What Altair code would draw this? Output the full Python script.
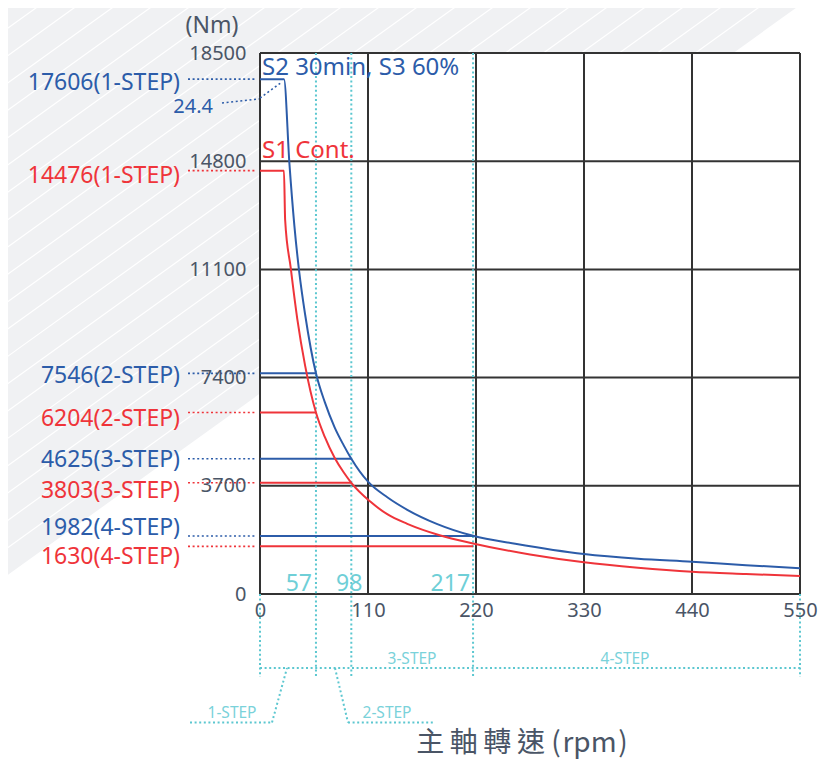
import altair as alt
import pandas as pd

# ---------------- data ----------------
# S2 30min / S3 60% torque curve (blue)
s2_rpm = [0, 24.4, 30, 35, 40, 46, 57, 66, 76, 85, 93, 110, 130, 150, 180, 217, 260, 330, 385, 440, 495, 550]
s2_nm = [17606, 17606, 14700, 12600, 11000, 9550, 7546, 6560, 5700, 5100, 4625, 3840, 3300, 2880, 2400, 1990, 1720, 1368, 1207, 1105, 985, 879]
# S1 continuous torque curve (red)
s1_rpm = [0, 24.4, 25.6, 31.3, 38, 46, 57, 66, 76, 85, 93, 112, 130, 150, 183, 217, 275, 330, 385, 440, 495, 550]
s1_nm = [14476, 14476, 12800, 11150, 9400, 7800, 6204, 5370, 4660, 4170, 3803, 3170, 2720, 2400, 2010, 1730, 1350, 1084, 900, 763, 684, 616]

step_names = ["1-STEP", "2-STEP", "3-STEP", "4-STEP"]
s2_step_nm = [17606, 7546, 4625, 1982]
s1_step_nm = [14476, 6204, 3803, 1630]
step_end_rpm = [57, 93, 217]          # where the step lines end in the picture
step_end_text = ["57", "98", "217"]   # labels printed at those lines
corner_rpm_text = "24.4"

x_ticks = [0, 110, 220, 330, 440, 550]
y_ticks = [0, 3700, 7400, 11100, 14800, 18500]

# ---------------- style ----------------
BLUE = "#2c5ca9"
RED = "#ef343a"
TEAL = "#5cc7d0"
GRAY = "#4a5566"
GRID = "#333333"
BG = "#f0f1f3"
FONT = "Noto Sans"
W, H = 540, 541

XS = alt.Scale(domain=[0, 550], nice=False, zero=False)
YS = alt.Scale(domain=[0, 18500], nice=False, zero=False)
XA = alt.Axis(values=x_ticks, format="d", grid=False, ticks=False, domain=False, labelFontSize=20,
              labelColor=GRAY, labelPadding=6, labelFlush=False, labelOverlap=False,
              title=None, zindex=1, labelFont=FONT)
YA = alt.Axis(values=y_ticks, format="d", grid=False, ticks=False, domain=False, labelFontSize=20,
              labelColor=GRAY, labelPadding=14, labelFlush=False, labelOverlap=False,
              title=None, zindex=1, labelFont=FONT)


def X(f):
    return alt.X(f, type="quantitative", scale=XS, axis=XA)


def Y(f):
    return alt.Y(f, type="quantitative", scale=YS, axis=YA)


one = pd.DataFrame({"k": [0]})

# ---------------- decorative background (page pixels -> data units) ----------------
def rpm_of(px):
    return (px - 260) * 550 / W


def nm_of(py):
    return (594 - py) * 18500 / H


SLOPE = 1.39
CORNER = 807
bg = pd.DataFrame({
    "x": [rpm_of(-10), rpm_of(CORNER)],
    "y": [nm_of(-5), nm_of(-5)],
    "y2": [nm_of((CORNER + 10) / SLOPE), nm_of(0)],
})
bg_layer = alt.Chart(bg).mark_area(color=BG, opacity=1).encode(x=X("x"), y=Y("y"), y2="y2")

stripes = []
c = CORNER - 38
while c > 0:
    stripes.append({"x": rpm_of(c), "y": nm_of(0), "x2": rpm_of(0), "y2": nm_of(c / SLOPE)})
    c -= 38
stripe_layer = alt.Chart(pd.DataFrame(stripes)).mark_rule(color="white", strokeWidth=1.2).encode(
    x=X("x"), y=Y("y"), x2="x2", y2="y2")

plot_bg = alt.Chart(one).mark_rect(color="white").encode(
    x=alt.value(0), x2=alt.value(W), y=alt.value(0), y2=alt.value(H))

# ---------------- grid ----------------
vgrid = alt.Chart(pd.DataFrame({"x": x_ticks})).mark_rule(color=GRID, strokeWidth=2).encode(
    x=X("x"), y=alt.value(0), y2=alt.value(H))
hgrid = alt.Chart(pd.DataFrame({"y": y_ticks})).mark_rule(color=GRID, strokeWidth=2).encode(
    y=Y("y"), x=alt.value(0), x2=alt.value(W))

# ---------------- teal step markers ----------------
DASH = [2, 2.6]
teal_v = alt.Chart(pd.DataFrame({"x": step_end_rpm})).mark_rule(
    color=TEAL, strokeWidth=2, strokeDash=DASH).encode(x=X("x"), y=alt.value(0), y2=alt.value(624))
teal_ends = alt.Chart(pd.DataFrame({"x": [x_ticks[0], x_ticks[-1]]})).mark_rule(
    color=TEAL, strokeWidth=2, strokeDash=DASH).encode(x=X("x"), y=alt.value(H), y2=alt.value(624))
teal_h = alt.Chart(pd.DataFrame({"x": [x_ticks[0]], "x2": [x_ticks[-1]]})).mark_rule(
    color=TEAL, strokeWidth=2, strokeDash=DASH).encode(x=X("x"), x2="x2", y=alt.value(615))

teal_num = []
for xv, txt, ddx in zip(step_end_rpm, step_end_text, [-4, 11, -3]):
    teal_num.append(alt.Chart(pd.DataFrame({"x": [xv], "t": [txt]})).mark_text(
        color="#6fcfd7", fontSize=23, font=FONT, align="right", baseline="alphabetic", dx=ddx, dy=-3).encode(
        x=X("x"), y=alt.value(H), text="t:N"))

# step range annotations below the axis
rule_style = dict(color=TEAL, strokeWidth=2, strokeDash=DASH)
leaders_px = [(-70, 669.5, 12, 669.5), (12, 669.5, 27, 615), (75, 615, 88, 669.5), (88, 669.5, 175, 669.5)]
step_anno = [alt.Chart(one).mark_rule(**rule_style).encode(
    x=alt.value(a), y=alt.value(b), x2=alt.value(cc), y2=alt.value(d)) for a, b, cc, d in leaders_px]
step_text_pos = [(-28, 660), (127, 660), (152, 606), (365, 606)]
step_texts = [alt.Chart(one).mark_text(text=name, color="#7ad2da", fontSize=15.5, font=FONT,
                                       align="center", baseline="middle").encode(
    x=alt.value(px), y=alt.value(py)) for name, (px, py) in zip(step_names, step_text_pos)]

# ---------------- left value labels & dotted leaders ----------------
lab = pd.DataFrame({
    "y": s2_step_nm + s1_step_nm,
    "t": [f"{v}({s})" for v, s in zip(s2_step_nm, step_names)] + [f"{v}({s})" for v, s in zip(s1_step_nm, step_names)],
    "c": [BLUE] * 4 + [RED] * 4,
    "dy": [4, 3, 1, -8, 5, 6, 8, 11],
})
leader = alt.Chart(lab).mark_rule(strokeWidth=1.6, strokeDash=[2, 2.6]).encode(
    y=Y("y"), x=alt.value(-72), x2=alt.value(-3), color=alt.Color("c:N", scale=None))
label_layers = []
for _, r in lab.iterrows():
    label_layers.append(alt.Chart(pd.DataFrame({"y": [r.y], "t": [r.t]})).mark_text(
        color=r.c, fontSize=23, font=FONT, align="right", baseline="middle", dy=int(r.dy)).encode(
        y=Y("y"), x=alt.value(-80), text="t:N"))

corner_text = alt.Chart(one).mark_text(text=corner_rpm_text, color=BLUE, fontSize=20, font=FONT,
                                       align="right", baseline="middle").encode(
    x=alt.value(-47), y=alt.value(54))
corner_lead1 = alt.Chart(one).mark_rule(color=BLUE, strokeWidth=1.6, strokeDash=[2, 2.6]).encode(
    x=alt.value(-38), y=alt.value(50), x2=alt.value(-1), y2=alt.value(46))
corner_lead2 = alt.Chart(one).mark_rule(color=BLUE, strokeWidth=1.6, strokeDash=[2, 2.6]).encode(
    x=alt.value(0), y=alt.value(45), x2=alt.value(22), y2=alt.value(29))

# ---------------- step horizontal lines ----------------
hl = pd.DataFrame({
    "x": [0] * 6,
    "x2": step_end_rpm + step_end_rpm,
    "y": s2_step_nm[1:] + s1_step_nm[1:],
    "c": [BLUE] * 3 + [RED] * 3,
})
hlines = alt.Chart(hl).mark_rule(strokeWidth=2).encode(
    x=X("x"), x2="x2", y=Y("y"), color=alt.Color("c:N", scale=None))

# ---------------- curves ----------------
curve_s2 = alt.Chart(pd.DataFrame({"x": s2_rpm, "y": s2_nm})).mark_line(
    color=BLUE, strokeWidth=2, interpolate="monotone").encode(x=X("x"), y=Y("y"))
curve_s1 = alt.Chart(pd.DataFrame({"x": s1_rpm, "y": s1_nm})).mark_line(
    color=RED, strokeWidth=2, interpolate="monotone").encode(x=X("x"), y=Y("y"))

# ---------------- texts ----------------
s2_text = alt.Chart(one).mark_text(text="S2 30min, S3 60%", color=BLUE, fontSize=24, font=FONT,
                                   align="left", baseline="alphabetic").encode(x=alt.value(2), y=alt.value(22))
s1_text = alt.Chart(one).mark_text(text="S1 Cont.", color=RED, fontSize=24, font=FONT,
                                   align="left", baseline="alphabetic").encode(x=alt.value(2), y=alt.value(105))
unit_text = alt.Chart(one).mark_text(text="(Nm)", color=GRAY, fontSize=23, font=FONT,
                                     align="center", baseline="middle").encode(x=alt.value(-48), y=alt.value(-27))
x_title = alt.Chart(one).mark_text(text="主\u2009軸\u2009轉\u2009速 (\u200arpm\u200a)", color=GRAY, fontSize=28,
                                   font="Noto Sans CJK TC", align="center", baseline="middle").encode(
    x=alt.value(262), y=alt.value(691))

chart = alt.layer(
    bg_layer, stripe_layer, plot_bg, vgrid, hgrid, teal_v, teal_ends, teal_h, *teal_num,
    *step_anno, *step_texts, leader, *label_layers, corner_lead1, corner_lead2, corner_text,
    hlines, curve_s2, curve_s1, s2_text, s1_text, unit_text, x_title,
).properties(
    width=W, height=H,
    autosize=alt.AutoSizeParams(type="none"),
    padding={"left": 252, "top": 45, "right": 18, "bottom": 168},
).configure_view(stroke=None).configure(font=FONT)

chart.save("out.html", embed_options={"renderer": "svg", "actions": False})
